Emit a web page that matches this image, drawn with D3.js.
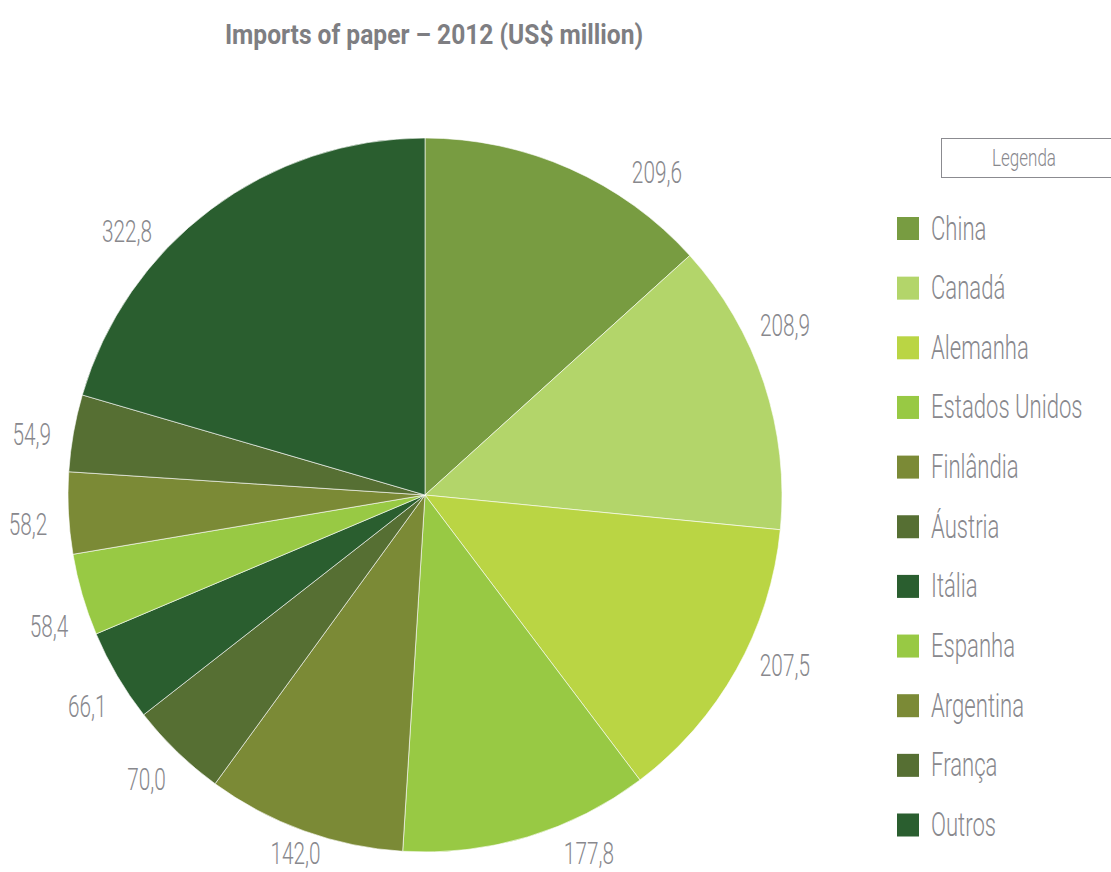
<html>
  <head>
    <meta charset="utf-8" />
    <script src="https://d3js.org/d3.v7.min.js"></script>
    <style>
      body {
        margin: 0;
        background: #fff;
      }
      text {
        font-family: Roboto, "DejaVu Sans Condensed", sans-serif;
        font-weight: 300;
        fill: #88888d;
      }
    </style>
  </head>
  <body>
    <svg id="chart" width="1111" height="872"></svg>
    <script>
      var countries = ["China", "Canadá", "Alemanha", "Estados Unidos", "Finlândia", "Áustria",
        "Itália", "Espanha", "Argentina", "França", "Outros"];
      var values = [209.6, 208.9, 207.5, 177.8, 142.0, 70.0, 66.1, 58.4, 58.2, 54.9, 322.8];
      var colors = ["#789c41", "#b3d56a", "#bad544", "#98c944", "#7b8a36", "#566f33",
        "#2a5e2f", "#98c944", "#7b8a36", "#566f33", "#2a5e2f"];

      var data = countries.map((c, i) => ({ name: c, value: values[i], color: colors[i] }));

      var svg = d3.select("#chart"),
        width = +svg.attr("width"),
        height = +svg.attr("height"),
        cx = 425,
        cy = 495,
        r = 357,
        squeeze = 0.67; // narrow the glyphs to mimic the condensed face

      svg.append("text")
        .attr("transform", "translate(434,44) scale(0.91,1)")
        .attr("text-anchor", "middle")
        .style("font-size", "27px")
        .style("font-weight", "bold")
        .style("fill", "#7e7e82")
        .text("Imports of paper – 2012 (US$ million)");

      var pie = d3.pie().sort(null).value((d) => d.value);
      var arc = d3.arc().innerRadius(0).outerRadius(r);
      var fmt = (v) => v.toFixed(1).replace(".", ",");

      // hand nudges (degrees) for the value labels, as they sit in the original
      var labelNudge = [11.7, -7, -4, -7.6, -0.8, 0.4, -1.5, -2.9, -1.3, -1.1, -11.6];
      var labelR = 398;

      var g = svg.append("g").attr("transform", "translate(" + cx + "," + cy + ")");
      var arcs = pie(data);

      g.selectAll("path")
        .data(arcs)
        .enter()
        .append("path")
        .attr("d", arc)
        .attr("fill", (d) => d.data.color)
        .attr("stroke", "#fff")
        .attr("stroke-width", 0.6);

      g.selectAll("text.lbl")
        .data(arcs)
        .enter()
        .append("text")
        .attr("class", "lbl")
        .attr("transform", function (d, i) {
          var a = (d.startAngle + d.endAngle) / 2 + (labelNudge[i] * Math.PI) / 180;
          var x = labelR * Math.sin(a),
            y = -labelR * Math.cos(a);
          y = Math.min(y, height - 19 - cy); // keep bottom labels inside the frame
          return "translate(" + x + "," + y + ") scale(" + squeeze + ",1)";
        })
        .attr("text-anchor", "middle")
        .attr("dy", "0.36em")
        .style("font-size", "31px")
        .text((d) => fmt(d.data.value));

      // legend
      var leg = svg.append("g");
      leg.append("rect")
        .attr("x", 941.5)
        .attr("y", 138.5)
        .attr("width", 180)
        .attr("height", 39)
        .attr("fill", "none")
        .attr("stroke", "#8b8b90")
        .attr("stroke-width", 1);
      leg.append("text")
        .attr("transform", "translate(1024,166) scale(0.74,1)")
        .attr("text-anchor", "middle")
        .style("font-size", "23px")
        .text("Legenda");

      var ly = d3.scaleLinear().domain([0, countries.length - 1]).range([228.5, 825]);
      var item = leg.selectAll("g.item")
        .data(data)
        .enter()
        .append("g")
        .attr("class", "item")
        .attr("transform", (d, i) => "translate(897," + ly(i) + ")");
      item.append("rect")
        .attr("x", 0)
        .attr("y", -11.5)
        .attr("width", 22)
        .attr("height", 23)
        .attr("fill", (d) => d.color);
      item.append("text")
        .attr("transform", "translate(34,11) scale(" + squeeze + ",1)")
        .style("font-size", "33px")
        .text((d) => d.name);
    </script>
  </body>
</html>
